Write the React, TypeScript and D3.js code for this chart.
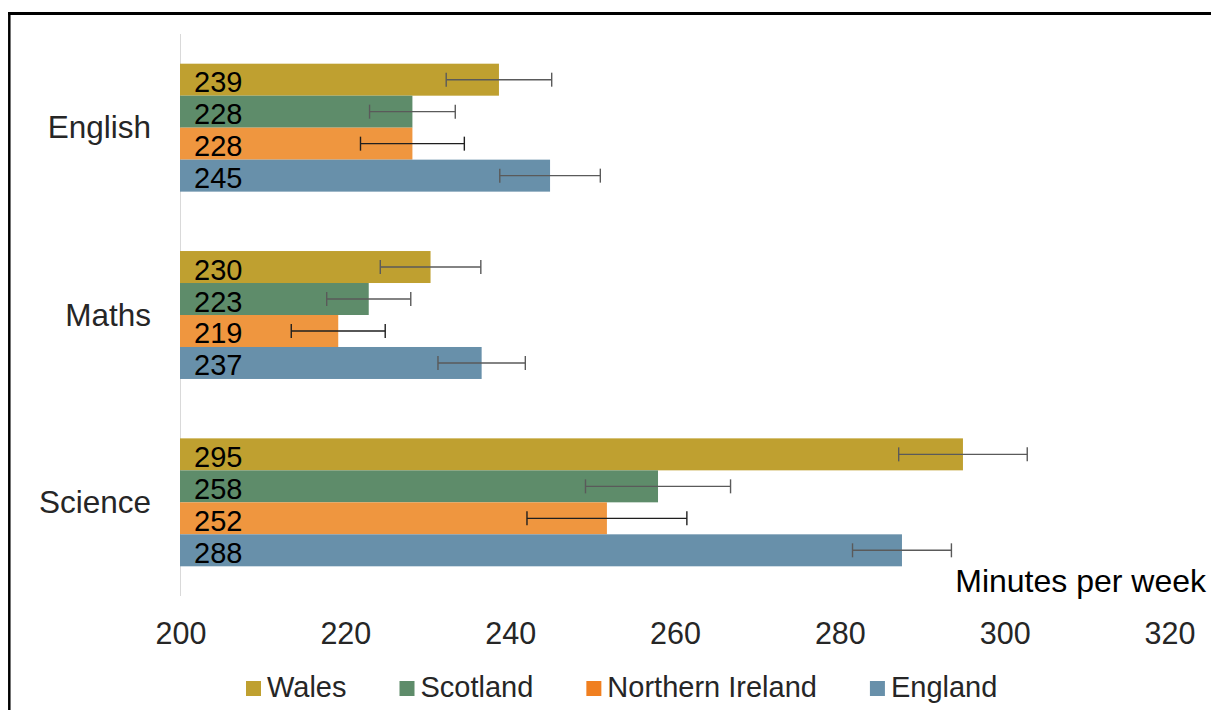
import React, { useEffect, useRef } from "react";
import * as d3 from "d3";

const subjects = ["English", "Maths", "Science"];
const nations = ["Wales", "Scotland", "Northern Ireland", "England"];
const walesValues = [238.7, 230.4, 295.0];
const scotlandValues = [228.2, 222.9, 258.0];
const niValues = [228.2, 219.2, 251.8];
const englandValues = [244.9, 236.6, 287.6];
const walesErr = [6.4, 6.1, 7.8];
const scotlandErr = [5.2, 5.1, 8.8];
const niErr = [6.3, 5.7, 9.7];
const englandErr = [6.1, 5.3, 6.0];
const xTicks = [200, 220, 240, 260, 280, 300, 320];
const axisTitle = "Minutes per week";

const barColors = ["#BFA030", "#5E8C6A", "#EF963F", "#6890AA"];
const legendColors = ["#BFA030", "#5E8C6A", "#F07F20", "#6890AA"];
const errColors = ["#5a5a5a", "#5a5a5a", "#1f1f1f", "#5a5a5a"];

const FONT = "'Liberation Sans', Arial, sans-serif";

export default function App() {
  const ref = useRef<SVGSVGElement | null>(null);

  useEffect(() => {
    const svg = d3.select(ref.current);
    svg.selectAll("*").remove();

    const values = [walesValues, scotlandValues, niValues, englandValues];
    const errs = [walesErr, scotlandErr, niErr, englandErr];

    const x = d3.scaleLinear().domain([200, 320]).range([180, 1169]);
    const y = d3
      .scaleBand<string>()
      .domain(subjects)
      .range([34, 596])
      .paddingInner(0.317)
      .paddingOuter(0.1585);
    const yi = d3
      .scaleBand<string>()
      .domain(nations)
      .range([0, y.bandwidth()]);

    // frame
    svg
      .append("line")
      .attr("x1", 8)
      .attr("x2", 1211)
      .attr("y1", 13.5)
      .attr("y2", 13.5)
      .attr("stroke", "#000")
      .attr("stroke-width", 3);
    svg
      .append("line")
      .attr("x1", 9.3)
      .attr("x2", 9.3)
      .attr("y1", 12)
      .attr("y2", 710)
      .attr("stroke", "#000")
      .attr("stroke-width", 2.5);

    // axis line
    svg
      .append("line")
      .attr("x1", x(200) + 0.5)
      .attr("x2", x(200) + 0.5)
      .attr("y1", 34)
      .attr("y2", 596)
      .attr("stroke", "#d9d9d9")
      .attr("stroke-width", 1);

    const data: any[] = [];
    subjects.forEach((s, si) => {
      nations.forEach((n, ni) => {
        data.push({ s, n, ni, v: values[ni][si], e: errs[ni][si] });
      });
    });

    const g = svg.append("g");
    g.selectAll("rect.bar")
      .data(data)
      .enter()
      .append("rect")
      .attr("class", "bar")
      .attr("x", x(200))
      .attr("y", (d) => (y(d.s) as number) + (yi(d.n) as number))
      .attr("width", (d) => x(d.v) - x(200))
      .attr("height", yi.bandwidth())
      .attr("fill", (d) => barColors[d.ni]);

    // value labels
    g.selectAll("text.val")
      .data(data)
      .enter()
      .append("text")
      .attr("x", x(200) + 14)
      .attr(
        "y",
        (d) => (y(d.s) as number) + (yi(d.n) as number) + yi.bandwidth() / 2 + 12.5
      )
      .attr("font-family", FONT)
      .attr("font-size", 29)
      .attr("fill", "#000")
      .text((d) => String(Math.round(d.v)));

    // error bars
    const eg = svg.append("g");
    data.forEach((d) => {
      const cy = (y(d.s) as number) + (yi(d.n) as number) + yi.bandwidth() / 2;
      const x1 = x(d.v - d.e);
      const x2 = x(d.v + d.e);
      const col = errColors[d.ni];
      eg.append("line")
        .attr("x1", x1)
        .attr("x2", x2)
        .attr("y1", cy)
        .attr("y2", cy)
        .attr("stroke", col)
        .attr("stroke-width", 1.4);
      [x1, x2].forEach((xx) => {
        eg.append("line")
          .attr("x1", xx)
          .attr("x2", xx)
          .attr("y1", cy - 7)
          .attr("y2", cy + 7)
          .attr("stroke", col)
          .attr("stroke-width", 1.4);
      });
    });

    // category labels
    svg
      .selectAll("text.cat")
      .data(subjects)
      .enter()
      .append("text")
      .attr("x", 151)
      .attr("y", (d) => (y(d) as number) + y.bandwidth() / 2 + 10.5)
      .attr("text-anchor", "end")
      .attr("font-family", FONT)
      .attr("font-size", 31.5)
      .attr("fill", "#262626")
      .text((d) => d);

    // tick labels
    svg
      .selectAll("text.tick")
      .data(xTicks)
      .enter()
      .append("text")
      .attr("x", (d) => x(d) + 1)
      .attr("y", 644)
      .attr("text-anchor", "middle")
      .attr("font-family", FONT)
      .attr("font-size", 30.5)
      .attr("fill", "#262626")
      .text((d) => String(d));

    // axis title
    svg
      .append("text")
      .attr("x", 1206)
      .attr("y", 592)
      .attr("text-anchor", "end")
      .attr("font-family", FONT)
      .attr("font-size", 32)
      .attr("fill", "#000")
      .text(axisTitle);

    // legend
    const lg = svg.append("g");
    let cx = 246;
    nations.forEach((n, i) => {
      lg.append("rect")
        .attr("x", cx)
        .attr("y", 681)
        .attr("width", 15)
        .attr("height", 15)
        .attr("fill", legendColors[i]);
      const t = lg
        .append("text")
        .attr("x", cx + 21)
        .attr("y", 697)
        .attr("font-family", FONT)
        .attr("font-size", 29)
        .attr("fill", "#262626")
        .text(n);
      const w = (t.node() as SVGTextElement).getComputedTextLength();
      cx = cx + 21 + w + 53;
    });
  }, []);

  return (
    <svg
      ref={ref}
      width={1211}
      height={710}
      style={{ position: "absolute", left: 0, top: 0, background: "#fff" }}
    />
  );
}
